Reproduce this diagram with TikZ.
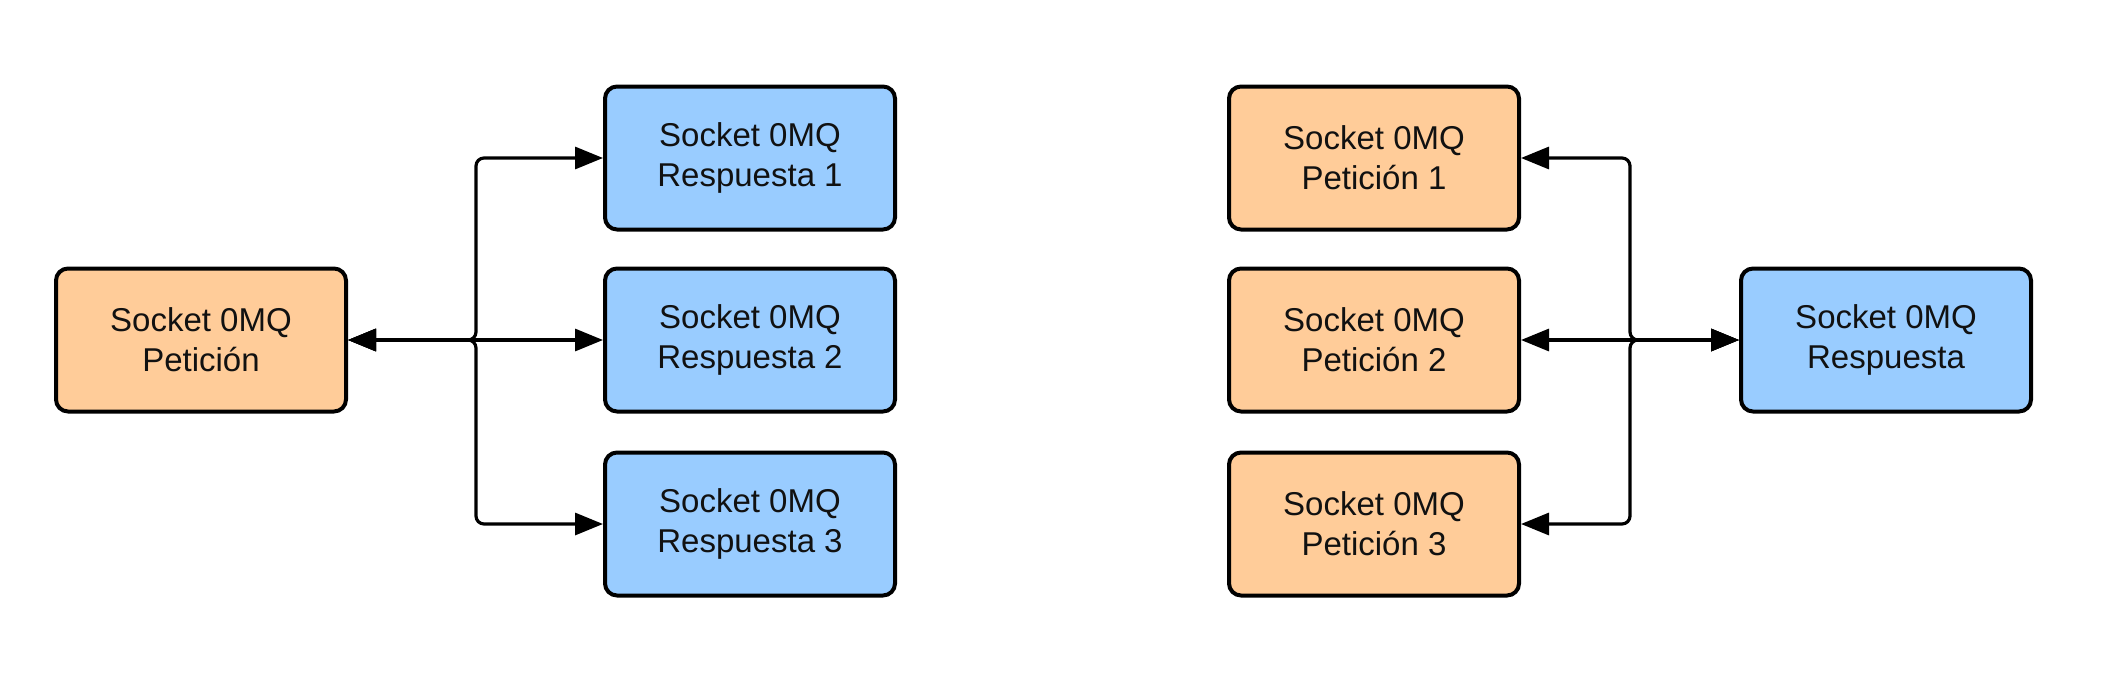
\documentclass[tikz,border=0pt]{standalone}
\usepackage{fontspec}
\setmainfont{Liberation Sans}
\usetikzlibrary{arrows.meta}
\definecolor{reqfill}{HTML}{FFCC99}
\definecolor{repfill}{HTML}{99CCFF}
\definecolor{txt}{HTML}{111111}
\tikzset{
  sockbox/.style={draw=black, line width=2pt, rounded corners=6pt,
    minimum width=145pt, minimum height=71.5pt, align=center, inner sep=0pt,
    text=txt, font=\fontsize{16.5pt}{20pt}\selectfont},
  reqbox/.style={sockbox, fill=reqfill},
  repbox/.style={sockbox, fill=repfill},
  conn/.style={line width=1.6pt, rounded corners=4pt,
    {Triangle[length=14pt,width=11pt]}-{Triangle[length=14pt,width=11pt]}}
}
\begin{document}
\begin{tikzpicture}[x=0.5pt,y=-0.5pt]
\useasboundingbox (0,0) rectangle (2104,680);
% left group
\node[reqbox] (pet) at (201,340) {Socket 0MQ\\Petición};
\node[repbox] (r1) at (750,158) {Socket 0MQ\\Respuesta 1};
\node[repbox] (r2) at (750,340) {Socket 0MQ\\Respuesta 2};
\node[repbox] (r3) at (750,524) {Socket 0MQ\\Respuesta 3};
\coordinate (jl) at (476,340);
\draw[conn] (pet) -- (jl) |- (r1);
\draw[conn] (pet) -- (r2);
\draw[conn] (pet) -- (jl) |- (r3);
% right group
\node[reqbox] (p1) at (1374,158) {Socket 0MQ\\Petición 1};
\node[reqbox] (p2) at (1374,340) {Socket 0MQ\\Petición 2};
\node[reqbox] (p3) at (1374,524) {Socket 0MQ\\Petición 3};
\node[repbox] (rep) at (1886,340) {Socket 0MQ\\Respuesta};
\coordinate (jr) at (1630,340);
\draw[conn] (rep) -- (jr) |- (p1);
\draw[conn] (rep) -- (p2);
\draw[conn] (rep) -- (jr) |- (p3);
\end{tikzpicture}
\end{document}
